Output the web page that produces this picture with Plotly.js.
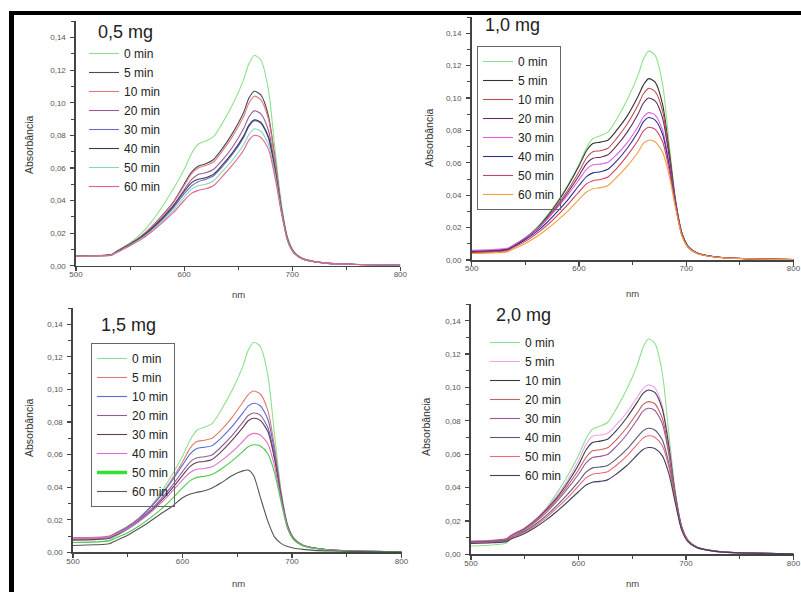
<!DOCTYPE html>
<html>
<head>
<meta charset="utf-8">
<script src="https://cdn.plot.ly/plotly-3.0.1.min.js"></script>
<style>html,body{margin:0;padding:0;background:#fff;}#chart{width:801px;height:592px;}</style>
</head>
<body>
<div id="chart"></div>
<script>
// Wavelength grid (nm)
const WL = [500, 520, 533, 537, 550, 560, 570, 580, 590, 600, 607, 613, 620, 627, 635, 645, 655, 660, 665, 671, 678, 684, 690, 696, 702, 710, 720, 735, 760, 800];

const timeLabels = ['0 min', '5 min', '10 min', '20 min', '30 min', '40 min', '50 min', '60 min'];
const panelTitles = ['0,5 mg', '1,0 mg', '1,5 mg', '2,0 mg'];
const xTickVals = [500, 600, 700, 800];
const xTickText = ['500', '600', '700', '800'];
const yTickVals = [0, 0.02, 0.04, 0.06, 0.08, 0.10, 0.12, 0.14];
const yTickText = ['0,00', '0,02', '0,04', '0,06', '0,08', '0,10', '0,12', '0,14'];
const xTitle = 'nm';
const yTitle = 'Absorbância';

// ---- 0,5 mg ----
const m05_t0  = [0.0058,0.0062,0.0070,0.0088,0.0140,0.0195,0.0270,0.0365,0.0470,0.0590,0.0690,0.0745,0.0765,0.0790,0.0870,0.0990,0.1140,0.1240,0.1290,0.1262,0.1080,0.0720,0.0380,0.0170,0.0085,0.0045,0.0028,0.0015,0.0008,0.0003];
const m05_t5  = [0.0058,0.0062,0.0068,0.0085,0.0135,0.0180,0.0240,0.0310,0.0390,0.0500,0.0575,0.0610,0.0625,0.0650,0.0715,0.0815,0.0940,0.1028,0.1070,0.1048,0.0920,0.0660,0.0360,0.0160,0.0080,0.0042,0.0026,0.0014,0.0007,0.0003];
const m05_t10 = [0.0058,0.0062,0.0068,0.0085,0.0135,0.0180,0.0238,0.0305,0.0385,0.0490,0.0565,0.0600,0.0615,0.0635,0.0700,0.0795,0.0915,0.0998,0.1040,0.1018,0.0900,0.0650,0.0355,0.0158,0.0080,0.0042,0.0026,0.0014,0.0007,0.0003];
const m05_t20 = [0.0058,0.0062,0.0067,0.0083,0.0132,0.0175,0.0230,0.0295,0.0370,0.0465,0.0530,0.0560,0.0570,0.0590,0.0645,0.0730,0.0840,0.0913,0.0950,0.0932,0.0830,0.0610,0.0345,0.0155,0.0078,0.0041,0.0025,0.0014,0.0007,0.0003];
const m05_t30 = [0.0056,0.0060,0.0066,0.0082,0.0128,0.0170,0.0222,0.0285,0.0355,0.0440,0.0490,0.0515,0.0530,0.0550,0.0605,0.0685,0.0785,0.0855,0.0890,0.0874,0.0785,0.0585,0.0335,0.0150,0.0076,0.0040,0.0025,0.0013,0.0007,0.0003];
const m05_t40 = [0.0057,0.0061,0.0067,0.0083,0.0130,0.0173,0.0228,0.0292,0.0365,0.0455,0.0510,0.0530,0.0540,0.0560,0.0615,0.0695,0.0795,0.0862,0.0895,0.0879,0.0790,0.0590,0.0338,0.0152,0.0077,0.0040,0.0025,0.0013,0.0007,0.0003];
const m05_t50 = [0.0056,0.0060,0.0065,0.0080,0.0125,0.0165,0.0215,0.0275,0.0340,0.0420,0.0470,0.0490,0.0500,0.0520,0.0575,0.0650,0.0742,0.0806,0.0840,0.0825,0.0745,0.0565,0.0330,0.0148,0.0075,0.0040,0.0025,0.0013,0.0007,0.0003];
const m05_t60 = [0.0056,0.0060,0.0064,0.0078,0.0122,0.0160,0.0208,0.0265,0.0325,0.0400,0.0445,0.0462,0.0472,0.0490,0.0545,0.0620,0.0708,0.0770,0.0800,0.0787,0.0715,0.0545,0.0325,0.0146,0.0074,0.0040,0.0025,0.0013,0.0007,0.0003];

// ---- 1,0 mg ----
const m10_t0  = [0.0050,0.0055,0.0066,0.0082,0.0138,0.0195,0.0272,0.0362,0.0468,0.0590,0.0692,0.0750,0.0768,0.0790,0.0868,0.0990,0.1140,0.1240,0.1290,0.1264,0.1085,0.0725,0.0382,0.0170,0.0085,0.0045,0.0028,0.0015,0.0008,0.0003];
const m10_t5  = [0.0050,0.0055,0.0065,0.0080,0.0135,0.0190,0.0265,0.0355,0.0460,0.0580,0.0675,0.0720,0.0728,0.0740,0.0800,0.0890,0.1010,0.1080,0.1120,0.1098,0.0960,0.0680,0.0365,0.0165,0.0082,0.0043,0.0026,0.0014,0.0007,0.0003];
const m10_t10 = [0.0050,0.0055,0.0064,0.0078,0.0132,0.0185,0.0255,0.0340,0.0435,0.0545,0.0630,0.0668,0.0675,0.0690,0.0750,0.0840,0.0955,0.1025,0.1060,0.1040,0.0920,0.0660,0.0360,0.0163,0.0081,0.0043,0.0026,0.0014,0.0007,0.0003];
const m10_t20 = [0.0055,0.0060,0.0068,0.0082,0.0135,0.0185,0.0250,0.0330,0.0420,0.0520,0.0595,0.0628,0.0635,0.0650,0.0705,0.0790,0.0900,0.0968,0.1000,0.0982,0.0875,0.0640,0.0355,0.0160,0.0080,0.0043,0.0026,0.0014,0.0007,0.0003];
const m10_t30 = [0.0060,0.0065,0.0072,0.0085,0.0138,0.0188,0.0250,0.0325,0.0405,0.0495,0.0560,0.0588,0.0592,0.0603,0.0650,0.0725,0.0823,0.0883,0.0910,0.0895,0.0800,0.0600,0.0345,0.0157,0.0079,0.0042,0.0026,0.0014,0.0007,0.0003];
const m10_t40 = [0.0050,0.0054,0.0062,0.0075,0.0125,0.0172,0.0230,0.0300,0.0375,0.0460,0.0515,0.0538,0.0545,0.0560,0.0610,0.0690,0.0790,0.0853,0.0880,0.0864,0.0775,0.0585,0.0340,0.0155,0.0078,0.0042,0.0026,0.0014,0.0007,0.0003];
const m10_t50 = [0.0045,0.0050,0.0057,0.0070,0.0115,0.0160,0.0212,0.0275,0.0345,0.0420,0.0470,0.0490,0.0497,0.0512,0.0565,0.0645,0.0738,0.0796,0.0820,0.0807,0.0730,0.0560,0.0333,0.0152,0.0077,0.0041,0.0025,0.0014,0.0007,0.0003];
const m10_t60 = [0.0040,0.0044,0.0050,0.0062,0.0102,0.0142,0.0190,0.0245,0.0305,0.0375,0.0420,0.0440,0.0447,0.0460,0.0510,0.0580,0.0665,0.0720,0.0740,0.0730,0.0665,0.0525,0.0322,0.0148,0.0075,0.0040,0.0025,0.0013,0.0007,0.0003];

// ---- 1,5 mg ----
const m15_t0  = [0.0060,0.0064,0.0072,0.0090,0.0142,0.0198,0.0272,0.0365,0.0470,0.0590,0.0690,0.0748,0.0768,0.0790,0.0870,0.0990,0.1140,0.1240,0.1290,0.1264,0.1085,0.0725,0.0382,0.0170,0.0085,0.0045,0.0028,0.0015,0.0008,0.0003];
const m15_t5  = [0.0090,0.0092,0.0100,0.0112,0.0160,0.0210,0.0275,0.0350,0.0445,0.0555,0.0640,0.0680,0.0688,0.0700,0.0748,0.0825,0.0920,0.0968,0.0990,0.0972,0.0870,0.0650,0.0365,0.0165,0.0082,0.0043,0.0026,0.0014,0.0007,0.0003];
const m15_t10 = [0.0085,0.0088,0.0095,0.0108,0.0155,0.0205,0.0270,0.0345,0.0435,0.0535,0.0605,0.0638,0.0645,0.0655,0.0700,0.0770,0.0855,0.0898,0.0915,0.0900,0.0815,0.0620,0.0355,0.0162,0.0081,0.0043,0.0026,0.0014,0.0007,0.0003];
const m15_t20 = [0.0080,0.0083,0.0090,0.0102,0.0148,0.0195,0.0255,0.0325,0.0405,0.0495,0.0555,0.0580,0.0587,0.0598,0.0645,0.0715,0.0798,0.0840,0.0855,0.0842,0.0765,0.0590,0.0345,0.0158,0.0079,0.0042,0.0026,0.0014,0.0007,0.0003];
const m15_t30 = [0.0075,0.0078,0.0085,0.0098,0.0143,0.0188,0.0245,0.0312,0.0388,0.0472,0.0528,0.0552,0.0558,0.0570,0.0615,0.0685,0.0765,0.0808,0.0823,0.0810,0.0740,0.0575,0.0340,0.0156,0.0078,0.0042,0.0026,0.0014,0.0007,0.0003];
const m15_t40 = [0.0085,0.0088,0.0094,0.0105,0.0145,0.0188,0.0240,0.0300,0.0370,0.0445,0.0490,0.0510,0.0515,0.0525,0.0560,0.0615,0.0680,0.0716,0.0730,0.0720,0.0665,0.0530,0.0325,0.0150,0.0076,0.0041,0.0025,0.0014,0.0007,0.0003];
const m15_t50 = [0.0060,0.0063,0.0070,0.0082,0.0120,0.0160,0.0208,0.0262,0.0325,0.0395,0.0440,0.0460,0.0467,0.0478,0.0510,0.0560,0.0618,0.0648,0.0660,0.0652,0.0605,0.0490,0.0310,0.0145,0.0074,0.0040,0.0025,0.0013,0.0007,0.0003];
const m15_t60 = [0.0042,0.0046,0.0052,0.0065,0.0105,0.0145,0.0188,0.0235,0.0280,0.0335,0.0358,0.0368,0.0378,0.0395,0.0425,0.0470,0.0500,0.0505,0.0470,0.0340,0.0190,0.0095,0.0055,0.0035,0.0025,0.0018,0.0012,0.0008,0.0005,0.0002];

// ---- 2,0 mg ----
const m20_t0  = [0.0050,0.0056,0.0068,0.0095,0.0145,0.0200,0.0275,0.0368,0.0472,0.0592,0.0692,0.0750,0.0768,0.0790,0.0870,0.0990,0.1140,0.1240,0.1290,0.1264,0.1085,0.0725,0.0382,0.0170,0.0085,0.0045,0.0028,0.0015,0.0008,0.0003];
const m20_t5  = [0.0080,0.0085,0.0095,0.0115,0.0160,0.0210,0.0275,0.0350,0.0445,0.0560,0.0660,0.0708,0.0715,0.0725,0.0775,0.0850,0.0945,0.0993,0.1015,0.0998,0.0890,0.0660,0.0365,0.0165,0.0082,0.0043,0.0026,0.0014,0.0007,0.0003];
const m20_t10 = [0.0075,0.0080,0.0090,0.0110,0.0155,0.0205,0.0268,0.0340,0.0430,0.0535,0.0625,0.0670,0.0678,0.0690,0.0740,0.0820,0.0915,0.0965,0.0985,0.0970,0.0870,0.0650,0.0362,0.0164,0.0082,0.0043,0.0026,0.0014,0.0007,0.0003];
const m20_t20 = [0.0078,0.0083,0.0092,0.0110,0.0152,0.0200,0.0260,0.0330,0.0412,0.0505,0.0580,0.0620,0.0627,0.0638,0.0685,0.0760,0.0850,0.0897,0.0915,0.0902,0.0815,0.0620,0.0352,0.0160,0.0080,0.0042,0.0026,0.0014,0.0007,0.0003];
const m20_t30 = [0.0075,0.0080,0.0090,0.0108,0.0148,0.0193,0.0250,0.0318,0.0395,0.0480,0.0548,0.0580,0.0587,0.0598,0.0645,0.0718,0.0810,0.0858,0.0875,0.0862,0.0782,0.0600,0.0347,0.0158,0.0079,0.0042,0.0026,0.0014,0.0007,0.0003];
const m20_t40 = [0.0070,0.0075,0.0084,0.0100,0.0138,0.0180,0.0232,0.0293,0.0360,0.0435,0.0492,0.0518,0.0523,0.0532,0.0570,0.0630,0.0705,0.0740,0.0755,0.0745,0.0685,0.0545,0.0330,0.0152,0.0076,0.0041,0.0025,0.0013,0.0007,0.0003];
const m20_t50 = [0.0068,0.0072,0.0080,0.0096,0.0132,0.0172,0.0220,0.0278,0.0340,0.0410,0.0458,0.0480,0.0486,0.0495,0.0532,0.0590,0.0662,0.0696,0.0710,0.0702,0.0650,0.0525,0.0325,0.0150,0.0076,0.0041,0.0025,0.0013,0.0007,0.0003];
const m20_t60 = [0.0065,0.0069,0.0076,0.0090,0.0125,0.0162,0.0206,0.0258,0.0315,0.0375,0.0415,0.0432,0.0437,0.0446,0.0480,0.0532,0.0598,0.0628,0.0640,0.0634,0.0590,0.0485,0.0310,0.0145,0.0074,0.0040,0.0025,0.0013,0.0007,0.0003];

const panelSeries = [
  [m05_t0, m05_t5, m05_t10, m05_t20, m05_t30, m05_t40, m05_t50, m05_t60],
  [m10_t0, m10_t5, m10_t10, m10_t20, m10_t30, m10_t40, m10_t50, m10_t60],
  [m15_t0, m15_t5, m15_t10, m15_t20, m15_t30, m15_t40, m15_t50, m15_t60],
  [m20_t0, m20_t5, m20_t10, m20_t20, m20_t30, m20_t40, m20_t50, m20_t60]
];

const panelColors = [
  ['#8ee08e', '#4a4a5a', '#e57b7b', '#9a5a9a', '#6a6ad0', '#3a3a55', '#8ad8b0', '#e0609a'],
  ['#8ee08e', '#333333', '#c05050', '#603060', '#e060e0', '#303090', '#d04060', '#f0a040'],
  ['#8ee08e', '#e07a6a', '#5a6ad8', '#8a609a', '#6a3a5a', '#e070c8', '#50c850', '#555555'],
  ['#8ee08e', '#f0a0f0', '#3a3a44', '#c86060', '#9a5a9a', '#5a5a78', '#f06878', '#404060']
];

const W = 801, H = 592;
// plot-area pixel boxes: [x500, x800, y0.00, y0.15]
const boxes = [
  [76, 400.3, 265.7, 21.2],
  [471.7, 793.5, 260, 17.1],
  [73, 401.5, 552.3, 308],
  [471, 793.5, 554.3, 304]
];
const FONT = 'Liberation Sans, Arial, sans-serif';

const traces = [];
const layout = {
  width: W, height: H,
  margin: {l: 0, r: 0, t: 0, b: 0},
  paper_bgcolor: '#ffffff', plot_bgcolor: '#ffffff',
  showlegend: true,
  font: {family: FONT, color: '#333'},
  annotations: [], shapes: []
};

const legendPos = [
  {x: 84, y: 39, bw: 0},
  {x: 477, y: 46, bw: 1},
  {x: 91, y: 343, bw: 1},
  {x: 485, y: 328, bw: 0}
];
const titlePos = [[125, 32], [512, 25], [128, 325], [523, 315]];
const nmPos = [[238, 295], [632, 293], [238, 583], [632, 583]];
const absPos = [[29, 145], [429, 138], [29, 428], [426, 427]];

for (let p = 0; p < 4; p++) {
  const sfx = p === 0 ? '' : String(p + 1);
  const xa = 'x' + sfx, ya = 'y' + sfx;
  const lg = 'legend' + sfx;
  for (let s = 0; s < 8; s++) {
    const special = (p === 2 && s === 6);
    traces.push({
      type: 'scatter', mode: 'lines',
      x: WL, y: panelSeries[p][s],
      name: timeLabels[s],
      xaxis: xa, yaxis: ya,
      legend: lg,
      showlegend: !special,
      line: {color: panelColors[p][s], width: 1.1, shape: 'spline', smoothing: 0.7}
    });
    if (special) {
      // legend entry drawn thicker in the reference
      traces.push({
        type: 'scatter', mode: 'lines', x: [null], y: [null],
        name: timeLabels[s], xaxis: xa, yaxis: ya, legend: lg,
        line: {color: '#33e033', width: 3.5}
      });
    }
  }
  const b = boxes[p];
  layout['xaxis' + sfx] = {
    domain: [b[0] / W, b[1] / W], range: [500, 800], anchor: ya,
    tickmode: 'array', tickvals: xTickVals, ticktext: xTickText,
    ticks: 'outside', ticklen: 4, tickwidth: 1.2, tickcolor: '#444',
    minor: {tickmode: 'linear', tick0: 500, dtick: 50, ticks: 'outside', ticklen: 3, tickcolor: '#444', tickwidth: 1},
    showline: true, linecolor: '#444', linewidth: 1.6,
    showgrid: false, zeroline: false,
    ticklabelstandoff: -4,
    tickfont: {size: 8, color: '#555', family: FONT},
    fixedrange: true
  };
  layout['yaxis' + sfx] = {
    domain: [1 - b[2] / H, 1 - b[3] / H], range: [0, 0.15], anchor: xa,
    tickmode: 'array', tickvals: yTickVals, ticktext: yTickText,
    ticks: 'outside', ticklen: 4, tickwidth: 1.2, tickcolor: '#444',
    minor: {tickmode: 'linear', tick0: 0, dtick: 0.01, ticks: 'outside', ticklen: 3, tickcolor: '#444', tickwidth: 1},
    showline: true, linecolor: '#444', linewidth: 1.6,
    showgrid: false, zeroline: false,
    ticklabelstandoff: 3,
    tickfont: {size: 8, color: '#555', family: FONT},
    fixedrange: true
  };
  const L = legendPos[p];
  layout[lg] = {
    x: L.x / W, y: 1 - L.y / H, xanchor: 'left', yanchor: 'top',
    xref: 'paper', yref: 'paper',
    bgcolor: 'rgba(255,255,255,0)',
    bordercolor: '#666', borderwidth: L.bw,
    font: {size: 12, color: '#222', family: FONT},
    tracegroupgap: 0
  };
  layout.annotations.push({
    text: panelTitles[p], xref: 'paper', yref: 'paper',
    x: titlePos[p][0] / W, y: 1 - titlePos[p][1] / H,
    xanchor: 'center', yanchor: 'middle', showarrow: false,
    font: {size: 18, color: '#222', family: FONT}
  });
  layout.annotations.push({
    text: xTitle, xref: 'paper', yref: 'paper',
    x: nmPos[p][0] / W, y: 1 - nmPos[p][1] / H,
    xanchor: 'center', yanchor: 'middle', showarrow: false,
    font: {size: 9.5, color: '#444', family: FONT}
  });
  layout.annotations.push({
    text: yTitle, xref: 'paper', yref: 'paper',
    x: absPos[p][0] / W, y: 1 - absPos[p][1] / H,
    xanchor: 'center', yanchor: 'middle', showarrow: false, textangle: -90,
    font: {size: 10.5, color: '#333', family: FONT}
  });
}

// black photo frame (top and left)
layout.shapes.push({type: 'rect', xref: 'paper', yref: 'paper', x0: 9 / W, x1: 1, y0: 1 - 15 / H, y1: 1 - 11 / H, fillcolor: '#000', line: {width: 0}, layer: 'above'});
layout.shapes.push({type: 'rect', xref: 'paper', yref: 'paper', x0: 9 / W, x1: 14 / W, y0: 0, y1: 1 - 11 / H, fillcolor: '#000', line: {width: 0}, layer: 'above'});

Plotly.newPlot('chart', traces, layout, {displayModeBar: false, staticPlot: true});
</script>
</body>
</html>
